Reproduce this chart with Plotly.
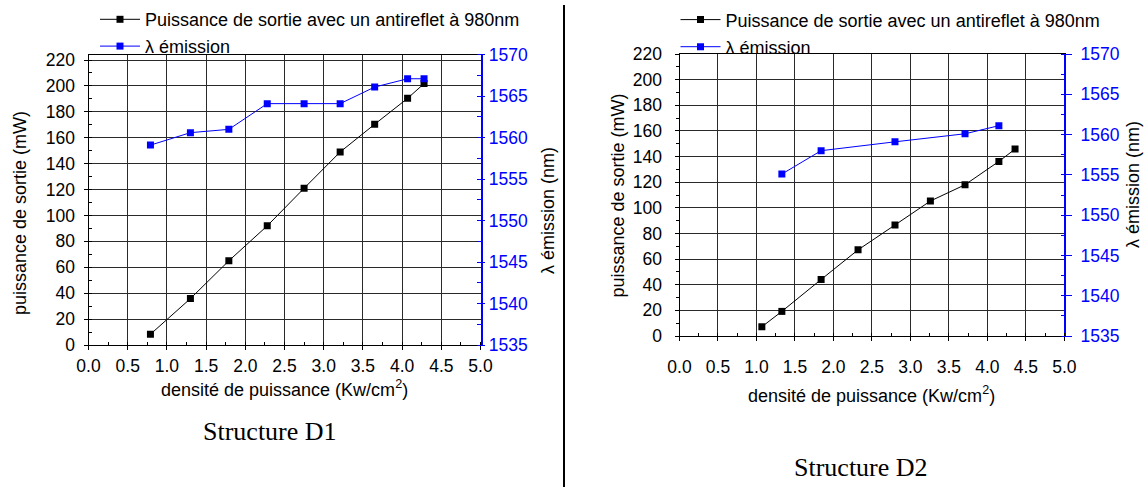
import plotly.graph_objects as go

# ---------------- data ----------------
# Structure D1
d1_density = [0.79, 1.30, 1.79, 2.28, 2.75, 3.21, 3.65, 4.07, 4.28]
d1_power = [8.3, 35.8, 65.0, 92.0, 121.0, 149.0, 170.4, 190.4, 201.8]
d1_lambda = [1559.1, 1560.6, 1561.0, 1564.1, 1564.1, 1564.1, 1566.1, 1567.1, 1567.1]

# Structure D2
d2_density = [1.07, 1.33, 1.84, 2.32, 2.80, 3.26, 3.71, 4.15, 4.36]
d2_power = [7.2, 19.2, 44.1, 67.2, 86.6, 105.3, 118.0, 136.2, 145.8]
d2_lambda_density = [1.33, 1.84, 2.80, 3.71, 4.15]
d2_lambda = [1555.1, 1558.0, 1559.1, 1560.1, 1561.1]

name_power = "Puissance de sortie avec un antireflet à 980nm"
name_lambda = "λ émission"
x_title = "densité de puissance (Kw/cm<sup>2</sup>)"
y_title = "puissance de sortie (mW)"
y2_title = "λ émission (nm)"
captions = ["Structure D1", "Structure D2"]

# ---------------- style ----------------
W, H = 1146, 487
SANS = "Arial, Liberation Sans, sans-serif"
SERIF = "Times New Roman, Liberation Serif, serif"
BLACK = "#000000"
BLUE = "#0000ff"
GRID = "#2a2a2a"
TICK_FONT = dict(family=SANS, size=17.5, color=BLACK)


def px(x):
    # page pixel -> paper fraction
    return x / W


def py(y):
    return 1 - y / H


fig = go.Figure()

marker_black = dict(symbol="square", size=7, color=BLACK)
marker_blue = dict(symbol="square", size=7, color=BLUE)

fig.add_trace(go.Scatter(x=d1_density, y=d1_power, mode="lines+markers", name=name_power,
                         line=dict(color=BLACK, width=1), marker=marker_black,
                         xaxis="x", yaxis="y", legend="legend"))
fig.add_trace(go.Scatter(x=d1_density, y=d1_lambda, mode="lines+markers", name=name_lambda,
                         line=dict(color=BLUE, width=1), marker=marker_blue,
                         xaxis="x", yaxis="y2", legend="legend2"))
fig.add_trace(go.Scatter(x=d2_density, y=d2_power, mode="lines+markers", name=name_power,
                         line=dict(color=BLACK, width=1), marker=marker_black,
                         xaxis="x2", yaxis="y3", legend="legend3"))
fig.add_trace(go.Scatter(x=d2_lambda_density, y=d2_lambda, mode="lines+markers", name=name_lambda,
                         line=dict(color=BLUE, width=1), marker=marker_blue,
                         xaxis="x2", yaxis="y4", legend="legend4"))


def xaxis_cfg(domain, anchor, standoff):
    return dict(domain=domain, anchor=anchor, range=[0, 5], dtick=0.5, tick0=0,
                tickformat=".1f", showgrid=True, gridcolor=GRID, gridwidth=1,
                zeroline=False, showline=True, linecolor=BLACK, linewidth=1, mirror=True,
                ticks="outside", ticklen=4, tickcolor=BLACK, tickfont=TICK_FONT,
                ticklabelstandoff=standoff, automargin=False,
                minor=dict(dtick=0.25, ticks="inside", ticklen=3, tickcolor=BLACK, showgrid=False))


def yleft_cfg(domain, anchor, rng, standoff, minor_ticks):
    return dict(domain=domain, anchor=anchor, range=rng, dtick=20, tick0=0,
                showgrid=True, gridcolor=GRID, gridwidth=1, zeroline=False,
                showline=True, linecolor=BLACK, linewidth=1,
                ticks="outside", ticklen=4, tickcolor=BLACK, tickfont=TICK_FONT,
                ticklabelstandoff=standoff, automargin=False,
                minor=dict(dtick=10, ticks=minor_ticks, ticklen=3, tickcolor=BLACK, showgrid=False))


def yright_cfg(overlay, anchor, standoff, ticklen):
    return dict(overlaying=overlay, anchor=anchor, side="right", range=[1535, 1570], dtick=5,
                showgrid=False, zeroline=False, showline=True, linecolor=BLUE, linewidth=1.5,
                ticks="outside", ticklen=ticklen, tickcolor=BLUE,
                tickfont=dict(family=SANS, size=17.5, color=BLUE),
                ticklabelstandoff=standoff, automargin=False,
                minor=dict(dtick=2.5, ticks="inside", ticklen=4, tickcolor=BLUE, showgrid=False))


# chart geometry (page pixels)
L_x0, L_x1, L_top, L_bot = 88.5, 480.5, 54.7, 345
R_x0, R_x1, R_top, R_bot = 679.5, 1064.3, 54, 336

fig.update_layout(
    template="none",
    width=W, height=H, margin=dict(l=0, r=0, t=0, b=0, autoexpand=False),
    paper_bgcolor="white", plot_bgcolor="white",
    font=dict(family=SANS, size=18, color=BLACK),
    xaxis=xaxis_cfg([px(L_x0), px(L_x1)], "y", 1),
    yaxis=yleft_cfg([py(L_bot), py(L_top)], "x", [0, 224.1], 5, "inside"),
    yaxis2=yright_cfg("y", "x", 0, 3),
    xaxis2=xaxis_cfg([px(R_x0), px(R_x1)], "y3", 11),
    yaxis3=yleft_cfg([py(R_bot), py(R_top)], "x2", [0, 220], 9, "outside"),
    yaxis4=yright_cfg("y3", "x2", 5, 6),
    showlegend=True,
)

leg_common = dict(bgcolor="rgba(0,0,0,0)", borderwidth=0, font=dict(family=SANS, size=18, color=BLACK),
                  xanchor="left", yanchor="middle", xref="paper", yref="paper", itemwidth=40)
fig.update_layout(
    legend=dict(x=px(95), y=py(19.6), **leg_common),
    legend2=dict(x=px(95), y=py(46.4), **leg_common),
    legend3=dict(x=px(675.5), y=py(19.9), **leg_common),
    legend4=dict(x=px(675.5), y=py(47.0), **leg_common),
)

annotations = [
    # x axis titles
    dict(x=px((L_x0 + L_x1) / 2), y=py(388), text=x_title, showarrow=False,
         font=dict(family=SANS, size=18, color=BLACK), xanchor="center", yanchor="middle"),
    dict(x=px((R_x0 + R_x1) / 2), y=py(394), text=x_title, showarrow=False,
         font=dict(family=SANS, size=18, color=BLACK), xanchor="center", yanchor="middle"),
    # left y titles
    dict(x=px(20), y=py(213), text=y_title, textangle=-90, showarrow=False,
         font=dict(family=SANS, size=18, color=BLACK), xanchor="center", yanchor="middle"),
    dict(x=px(617.5), y=py(196), text=y_title, textangle=-90, showarrow=False,
         font=dict(family=SANS, size=18, color=BLACK), xanchor="center", yanchor="middle"),
    # right y titles
    dict(x=px(548), y=py(211), text=y2_title, textangle=-90, showarrow=False,
         font=dict(family=SANS, size=18, color=BLACK), xanchor="center", yanchor="middle"),
    dict(x=px(1133), y=py(185), text=y2_title, textangle=-90, showarrow=False,
         font=dict(family=SANS, size=18, color=BLACK), xanchor="center", yanchor="middle"),
    # captions
    dict(x=px(270), y=py(431), text=captions[0], showarrow=False,
         font=dict(family=SERIF, size=26, color=BLACK), xanchor="center", yanchor="middle"),
    dict(x=px(860.5), y=py(467), text=captions[1], showarrow=False,
         font=dict(family=SERIF, size=26, color=BLACK), xanchor="center", yanchor="middle"),
]
for a in annotations:
    a["xref"] = "paper"
    a["yref"] = "paper"
fig.update_layout(annotations=annotations)

# vertical divider between the two figures
fig.add_shape(type="line", xref="paper", yref="paper", x0=px(564), x1=px(564), y0=0, y1=py(5),
              line=dict(color=BLACK, width=2))

# remove the default 8px page margin so the figure fills the window exactly
fig.write_html("out.html",
               config={"displayModeBar": False},
               post_script="document.body.style.margin='0';document.body.style.overflow='hidden';")
